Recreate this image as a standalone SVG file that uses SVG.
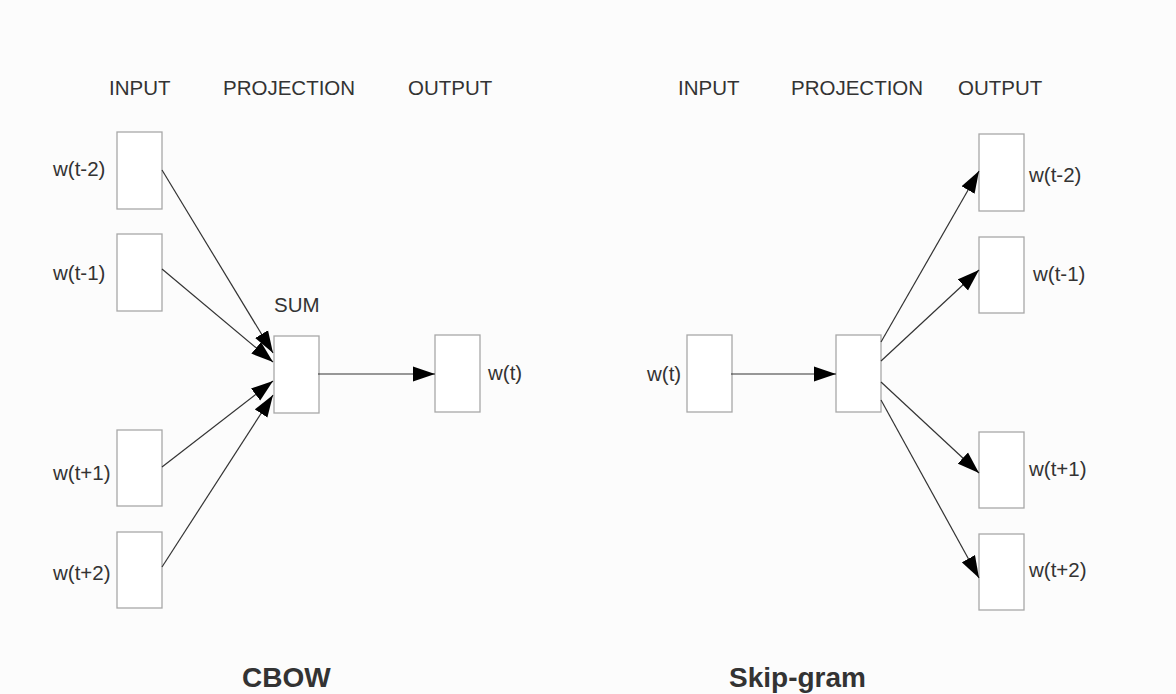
<svg xmlns="http://www.w3.org/2000/svg" width="1176" height="694" viewBox="0 0 1176 694">
  <style>
    .box { fill: #ffffff; stroke: #a8a8a8; stroke-width: 1.3; }
    .lbl { font-family: "Liberation Sans", Arial, sans-serif; font-size: 20.5px; fill: #333333; }
    .title { font-family: "Liberation Sans", Arial, sans-serif; font-size: 28px; font-weight: bold; fill: #333333; }
    .edge { stroke: #333333; stroke-width: 1.2; fill: none; marker-end: url(#arrow); }
  </style>
  <defs>
    <marker id="arrow" markerUnits="userSpaceOnUse" markerWidth="23" markerHeight="16" refX="22" refY="8" orient="auto">
      <path d="M0,0.5 L22,8 L0,15.5 Z" fill="#000000"/>
    </marker>
  </defs>
  <rect x="0" y="0" width="1176" height="694" fill="#fcfcfc"/>

  <!-- column headings -->
  <g id="headings">
    <text class="lbl" x="109" y="95">INPUT</text>
    <text class="lbl" x="223" y="95">PROJECTION</text>
    <text class="lbl" x="408" y="95">OUTPUT</text>
    <text class="lbl" x="678" y="95">INPUT</text>
    <text class="lbl" x="791" y="95">PROJECTION</text>
    <text class="lbl" x="958" y="95">OUTPUT</text>
  </g>

  <!-- CBOW model -->
  <g id="cbow-in-t-2">
    <rect class="box" x="117" y="132" width="45" height="77"/>
    <text class="lbl" x="53" y="176">w(t-2)</text>
  </g>
  <g id="cbow-in-t-1">
    <rect class="box" x="117" y="234" width="45" height="77"/>
    <text class="lbl" x="53" y="280">w(t-1)</text>
  </g>
  <g id="cbow-in-t+1">
    <rect class="box" x="117" y="430" width="45" height="76"/>
    <text class="lbl" x="53" y="480">w(t+1)</text>
  </g>
  <g id="cbow-in-t+2">
    <rect class="box" x="117" y="532" width="45" height="76"/>
    <text class="lbl" x="53" y="580">w(t+2)</text>
  </g>
  <g id="cbow-sum">
    <rect class="box" x="274" y="336" width="45" height="77"/>
    <text class="lbl" x="274" y="312">SUM</text>
  </g>
  <g id="cbow-out">
    <rect class="box" x="435" y="335" width="45" height="77"/>
    <text class="lbl" x="488" y="380">w(t)</text>
  </g>

  <!-- Skip-gram model -->
  <g id="sg-in">
    <rect class="box" x="687" y="335" width="45" height="77"/>
    <text class="lbl" x="647" y="381">w(t)</text>
  </g>
  <g id="sg-proj">
    <rect class="box" x="836" y="335" width="45" height="77"/>
  </g>
  <g id="sg-out-t-2">
    <rect class="box" x="979" y="134" width="45" height="77"/>
    <text class="lbl" x="1029" y="182">w(t-2)</text>
  </g>
  <g id="sg-out-t-1">
    <rect class="box" x="979" y="237" width="45" height="76"/>
    <text class="lbl" x="1033" y="281">w(t-1)</text>
  </g>
  <g id="sg-out-t+1">
    <rect class="box" x="979" y="432" width="45" height="76"/>
    <text class="lbl" x="1029" y="476">w(t+1)</text>
  </g>
  <g id="sg-out-t+2">
    <rect class="box" x="979" y="534" width="45" height="76"/>
    <text class="lbl" x="1029" y="577">w(t+2)</text>
  </g>

  <!-- connectors -->
  <g id="connectors">
    <line class="edge" x1="162" y1="170" x2="273" y2="353"/>
    <line class="edge" x1="162" y1="269" x2="273" y2="362"/>
    <line class="edge" x1="162" y1="467" x2="273" y2="381"/>
    <line class="edge" x1="162" y1="567" x2="273" y2="395"/>
    <line class="edge" x1="318" y1="374" x2="435" y2="374"/>
    <line class="edge" x1="731" y1="374" x2="836" y2="374"/>
    <line class="edge" x1="881" y1="342" x2="979" y2="171"/>
    <line class="edge" x1="881" y1="361" x2="979" y2="270"/>
    <line class="edge" x1="881" y1="382" x2="979" y2="473"/>
    <line class="edge" x1="881" y1="400" x2="979" y2="578"/>
  </g>

  <!-- model titles -->
  <g id="titles">
    <text class="title" x="242" y="687">CBOW</text>
    <text class="title" x="729" y="687">Skip-gram</text>
  </g>
</svg>
